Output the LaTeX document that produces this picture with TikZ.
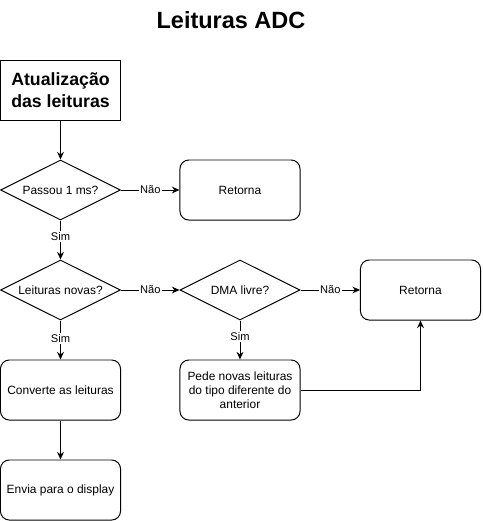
\documentclass[tikz,border=0pt]{standalone}
\usepackage{fontspec}
\setmainfont{Liberation Sans}
\usetikzlibrary{arrows.meta,shapes.geometric,positioning}

\begin{document}
\begin{tikzpicture}[x=0.025cm,y=-0.025cm,>={Stealth[length=1.9mm,width=1.7mm]},line width=0.7pt,
  proc/.style={draw,rounded corners=0.22cm,minimum width=3cm,minimum height=1.5cm,align=center,font=\fontsize{8.5}{10}\selectfont},
  test/.style={draw,diamond,aspect=2,inner sep=0pt,minimum width=3cm,minimum height=1.5cm,font=\fontsize{8.5}{10}\selectfont},
  lab/.style={fill=white,inner sep=1pt,font=\fontsize{7.9}{9}\selectfont}]
  \useasboundingbox (0,0) rectangle (482,521);
  \node[font=\bfseries\fontsize{16.7}{20}\selectfont] (title) at (231,20) {Leituras ADC};
  \node[draw,minimum width=3cm,minimum height=1.5cm,align=center,font=\bfseries\fontsize{12.6}{15.5}\selectfont] (start) at (60.5,90) {Atualização\\das leituras};
  \node[test] (passou) at (60.5,190) {Passou 1 ms?};
  \node[proc] (ret1) at (240,190) {Retorna};
  \node[test] (novas) at (60.5,290) {Leituras novas?};
  \node[test] (dma) at (240,290) {DMA livre?};
  \node[proc] (ret2) at (420.5,290) {Retorna};
  \node[proc] (conv) at (60.5,390) {Converte as leituras};
  \node[proc] (pede) at (240,390) {Pede novas leituras\\do tipo diferente do\\anterior};
  \node[proc] (envia) at (60.5,490) {Envia para o display};
  % ligacoes
  \draw[->] (start) -- (passou);
  \draw[->] (passou) -- node[lab] {Não} (ret1);
  \draw[->] (passou) -- node[lab,pos=0.4] {Sim} (novas);
  \draw[->] (novas) -- node[lab] {Não} (dma);
  \draw[->] (dma) -- node[lab] {Não} (ret2);
  \draw[->] (novas) -- node[lab,pos=0.47] {Sim} (conv);
  \draw[->] (dma) -- node[lab,pos=0.4] {Sim} (pede);
  \draw[->] (pede.east) -| (ret2.south);
  \draw[->] (conv) -- (envia);
\end{tikzpicture}
\end{document}
